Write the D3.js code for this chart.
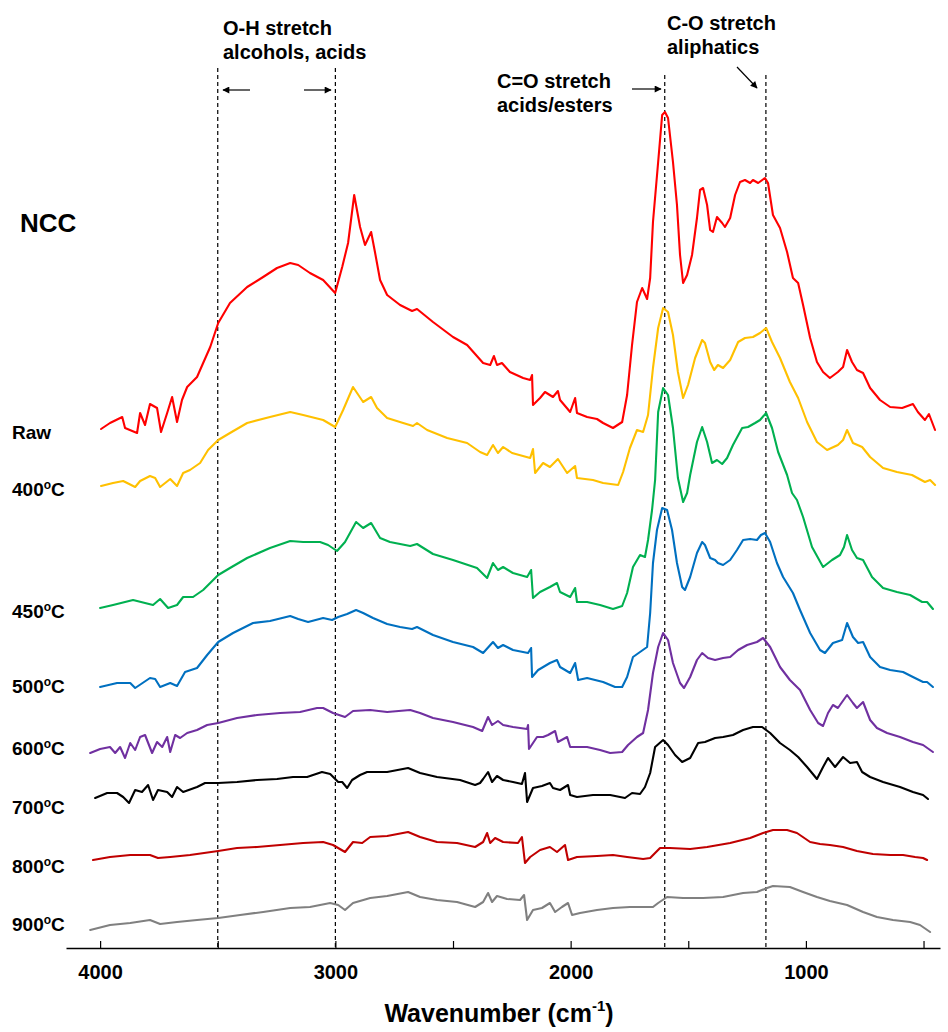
<!DOCTYPE html>
<html>
<head>
<meta charset="utf-8">
<script src="https://cdn.jsdelivr.net/npm/d3@7"></script>
<style>
  html, body { margin: 0; padding: 0; background: #fff; }
  svg { display: block; }
  text { font-family: Arial, "Liberation Sans", sans-serif; font-weight: bold; fill: #000; }
</style>
</head>
<body>
<svg id="chart" width="948" height="1032"></svg>
<script>
// FTIR spectra of NCC, raw and after heating; absorbance in stacked arbitrary units
// Each series: [wavenumber (cm-1), absorbance (a.u., offset for stacking)]
const raw = [[3996,518],[3958,524],[3906,530],[3894,519],[3843,514],[3830,534],[3809,522],[3788,543],[3758,539],[3741,515],[3715,534],[3694,550],[3673,525],[3652,547],[3630,560],[3588,570],[3562,584],[3532,600],[3498,624],[3448,644],[3375,660],[3307,670],[3248,679],[3192,684],[3158,682],[3108,674],[3052,667],[3001,654],[2971,680],[2946,704],[2920,752],[2895,720],[2874,702],[2848,715],[2831,694],[2810,667],[2780,652],[2725,642],[2674,636],[2653,638],[2585,625],[2500,610],[2440,602],[2372,584],[2342,582],[2326,591],[2313,582],[2292,584],[2258,575],[2202,569],[2172,567],[2164,572],[2160,542],[2130,549],[2109,555],[2075,550],[2054,556],[2045,547],[2002,535],[1981,549],[1973,534],[1930,530],[1888,528],[1862,524],[1820,519],[1781,525],[1760,552],[1739,602],[1718,645],[1696,659],[1675,648],[1662,669],[1650,725],[1628,785],[1611,832],[1599,835],[1586,829],[1565,785],[1548,742],[1535,692],[1522,664],[1505,672],[1484,692],[1463,729],[1450,757],[1437,759],[1420,742],[1407,717],[1395,715],[1378,730],[1356,724],[1344,720],[1322,729],[1301,752],[1280,765],[1259,767],[1237,764],[1225,767],[1203,764],[1174,769],[1161,764],[1140,732],[1110,719],[1080,695],[1055,669],[1033,664],[1012,642],[982,609],[953,585],[927,575],[898,569],[864,575],[842,580],[825,597],[804,585],[783,577],[757,574],[727,559],[685,547],[642,540],[591,539],[545,543],[524,535],[494,527],[477,533],[451,517]];

const t400 = [[3996,461],[3945,464],[3902,466],[3851,460],[3830,466],[3788,471],[3766,469],[3745,460],[3702,468],[3673,461],[3647,474],[3618,477],[3575,484],[3541,497],[3498,507],[3448,514],[3375,524],[3278,530],[3192,535],[3137,532],[3052,527],[3001,520],[2967,537],[2925,560],[2882,545],[2848,550],[2823,539],[2780,529],[2712,524],[2670,521],[2653,524],[2610,517],[2525,509],[2440,504],[2385,495],[2355,492],[2330,502],[2309,494],[2287,500],[2249,494],[2172,489],[2160,498],[2151,474],[2117,484],[2088,480],[2054,488],[2015,474],[1981,481],[1973,469],[1905,467],[1862,464],[1798,462],[1777,475],[1748,499],[1718,517],[1692,515],[1671,532],[1650,579],[1628,619],[1607,639],[1586,635],[1565,612],[1544,575],[1522,549],[1501,562],[1471,589],[1441,607],[1429,604],[1407,585],[1390,577],[1374,582],[1352,579],[1322,587],[1288,605],[1259,609],[1225,610],[1195,614],[1169,619],[1144,605],[1110,589],[1068,565],[1033,549],[995,525],[953,505],[910,497],[864,502],[842,507],[825,517],[800,504],[761,500],[727,490],[672,479],[613,475],[549,472],[494,465],[472,467],[451,462]];

const t450 = [[4000,339],[3945,342],[3860,347],[3775,342],[3745,348],[3711,339],[3673,342],[3647,350],[3605,350],[3562,357],[3498,372],[3448,379],[3375,389],[3278,399],[3192,406],[3137,405],[3065,405],[3031,402],[2993,396],[2959,405],[2912,425],[2882,419],[2848,424],[2810,409],[2768,405],[2682,401],[2653,403],[2585,393],[2500,387],[2398,379],[2355,369],[2330,384],[2309,377],[2287,380],[2245,374],[2185,370],[2168,377],[2160,349],[2130,355],[2088,360],[2058,364],[2045,355],[2002,350],[1981,359],[1973,345],[1930,345],[1875,342],[1820,338],[1781,341],[1760,354],[1735,380],[1705,392],[1684,390],[1671,407],[1654,437],[1641,467],[1628,535],[1607,559],[1586,552],[1565,519],[1544,469],[1522,445],[1505,454],[1492,472],[1463,505],[1441,520],[1420,505],[1399,484],[1378,487],[1356,483],[1335,489],[1310,502],[1271,519],[1246,520],[1216,524],[1195,527],[1169,534],[1144,519],[1118,495],[1080,472],[1059,454],[1038,447],[1012,430],[974,400],[927,380],[889,387],[855,392],[838,400],[825,412],[804,397],[783,389],[757,387],[719,370],[672,359],[613,355],[557,352],[506,345],[485,345],[460,338]];

const t500 = [[4000,260],[3928,264],[3872,264],[3851,259],[3788,269],[3766,268],[3745,260],[3702,264],[3673,261],[3639,275],[3588,279],[3545,292],[3498,305],[3435,314],[3350,324],[3278,326],[3192,331],[3158,328],[3116,325],[3052,329],[3014,327],[2988,330],[2950,333],[2912,337],[2882,334],[2840,329],[2780,323],[2725,320],[2674,318],[2653,320],[2585,312],[2500,305],[2415,300],[2372,294],[2330,305],[2309,299],[2287,302],[2245,297],[2181,294],[2168,299],[2164,270],[2138,277],[2088,284],[2058,287],[2045,280],[2002,274],[1981,284],[1968,267],[1930,269],[1862,265],[1811,260],[1781,260],[1760,270],[1735,290],[1705,295],[1675,300],[1662,334],[1650,384],[1633,417],[1611,439],[1590,437],[1569,417],[1548,384],[1526,360],[1514,357],[1492,370],[1463,394],[1441,405],[1429,402],[1407,389],[1386,387],[1374,384],[1352,382],[1322,387],[1293,397],[1267,407],[1237,408],[1208,407],[1191,412],[1174,414],[1152,405],[1123,384],[1097,370],[1055,354],[1025,337],[982,314],[940,297],[919,294],[885,304],[846,307],[825,324],[800,310],[778,304],[757,305],[727,290],[685,280],[642,277],[587,275],[545,270],[502,265],[485,265],[460,260]];

const t600 = [[4042,194],[4000,198],[3958,200],[3936,194],[3915,200],[3894,189],[3872,204],[3851,197],[3830,210],[3809,212],[3779,194],[3758,205],[3736,200],[3715,210],[3702,195],[3681,212],[3660,209],[3630,214],[3588,217],[3545,222],[3498,224],[3418,229],[3333,232],[3235,234],[3150,235],[3078,239],[3052,239],[3010,234],[2959,230],[2925,236],[2852,237],[2780,235],[2682,237],[2640,234],[2585,229],[2500,225],[2415,220],[2376,216],[2351,230],[2334,222],[2309,226],[2287,222],[2245,220],[2185,218],[2181,222],[2177,198],[2143,210],[2117,210],[2096,212],[2066,216],[2054,205],[2015,210],[2002,200],[1990,200],[1930,200],[1875,197],[1832,194],[1781,195],[1756,202],[1718,210],[1692,214],[1671,237],[1650,274],[1628,300],[1607,314],[1586,307],[1565,284],[1535,264],[1518,259],[1492,270],[1463,287],[1441,294],[1416,289],[1386,287],[1352,289],[1322,290],[1288,297],[1250,302],[1208,305],[1182,309],[1152,300],[1110,280],[1068,267],[1025,257],[982,237],[948,224],[927,221],[906,234],[885,242],[864,239],[825,252],[800,244],[783,239],[757,245],[727,227],[698,219],[655,214],[600,210],[545,205],[502,202],[460,195]];

const t700 = [[4021,149],[3970,154],[3928,154],[3902,150],[3877,144],[3851,157],[3822,155],[3796,162],[3775,147],[3754,157],[3715,155],[3694,150],[3673,160],[3647,155],[3588,160],[3554,164],[3498,164],[3418,165],[3333,167],[3248,168],[3180,170],[3120,170],[3057,175],[3022,173],[2988,165],[2971,165],[2950,159],[2929,167],[2895,172],[2865,175],[2780,175],[2691,179],[2640,174],[2568,170],[2470,167],[2406,162],[2385,164],[2372,168],[2351,175],[2334,165],[2313,171],[2287,167],[2245,165],[2207,163],[2194,174],[2185,145],[2160,159],[2122,161],[2088,164],[2075,159],[2045,157],[2011,162],[2002,152],[1973,150],[1905,152],[1832,152],[1769,149],[1739,154],[1705,153],[1684,160],[1662,174],[1641,200],[1607,207],[1586,202],[1556,192],[1526,185],[1492,189],[1458,204],[1429,205],[1386,209],[1352,210],[1310,212],[1267,217],[1225,220],[1186,220],[1152,214],[1110,204],[1068,197],[1033,190],[995,180],[953,168],[927,180],[906,189],[876,180],[842,190],[812,184],[783,185],[761,175],[727,170],[672,165],[600,160],[545,155],[502,152],[481,148]];

const t800 = [[4030,87],[3958,90],[3872,92],[3788,92],[3754,89],[3702,90],[3618,92],[3498,96],[3418,99],[3333,100],[3235,102],[3137,104],[3052,105],[3010,102],[2959,95],[2925,105],[2886,104],[2852,110],[2780,111],[2691,115],[2640,110],[2568,105],[2483,104],[2406,100],[2372,105],[2355,114],[2342,104],[2321,109],[2287,105],[2224,104],[2207,110],[2194,84],[2172,90],[2130,97],[2088,100],[2058,95],[2024,102],[2011,87],[1973,90],[1888,91],[1820,92],[1760,90],[1692,88],[1662,89],[1620,99],[1578,99],[1492,98],[1420,100],[1322,104],[1237,109],[1182,114],[1140,117],[1080,117],[1038,114],[982,105],[940,103],[898,102],[842,100],[783,96],[715,93],[642,92],[587,92],[536,90],[502,89],[485,87]];

const t900 = [[4042,17],[3958,22],[3872,24],[3788,27],[3745,23],[3673,25],[3588,27],[3498,29],[3405,32],[3307,35],[3192,39],[3108,40],[3022,44],[2988,42],[2959,37],[2925,44],[2852,49],[2780,51],[2691,55],[2640,50],[2568,47],[2483,45],[2406,40],[2372,45],[2351,54],[2334,45],[2313,51],[2270,48],[2215,47],[2198,52],[2185,27],[2160,37],[2122,39],[2088,44],[2066,35],[2037,40],[2011,44],[1994,32],[1960,34],[1888,37],[1820,39],[1748,40],[1650,40],[1628,44],[1590,50],[1522,49],[1437,49],[1352,50],[1267,54],[1208,55],[1165,59],[1140,61],[1068,60],[1012,55],[953,50],[898,46],[825,42],[757,35],[698,30],[630,27],[557,25],[515,22],[472,15]];

const seriesData = [raw, t400, t450, t500, t600, t700, t800, t900];
const seriesLabels = ["Raw", "400°C", "450°C", "500°C", "600°C", "700°C", "800°C", "900°C"];
const seriesColors = ["#FF0000", "#FFC000", "#00B050", "#0070C0", "#7030A0", "#000000", "#C00000", "#808080"];

const tickValues = [4000, 3500, 3000, 2500, 2000, 1500, 1000, 500];
const bandLines = [3500, 3000, 1600, 1170];

// layout: baseline of each series label (px)
const labelBaselines = [439, 496, 618, 693, 755, 814, 873, 931];

const svg = d3.select("#chart");
const x = d3.scaleLinear().domain([4145, 430]).range([66, 940]);
const y = d3.scaleLinear().domain([0, 880]).range([947, 67]);

// arrow head marker
svg.append("defs").append("marker")
  .attr("id", "arrowHead")
  .attr("viewBox", "0 0 10 10")
  .attr("refX", 9).attr("refY", 5)
  .attr("markerWidth", 9).attr("markerHeight", 7)
  .attr("markerUnits", "userSpaceOnUse")
  .attr("orient", "auto")
  .append("path").attr("d", "M0,0 L10,5 L0,10 z").attr("fill", "#000");

// dashed band markers
svg.append("g").selectAll("line").data(bandLines).join("line")
  .attr("x1", d => x(d)).attr("x2", d => x(d))
  .attr("y1", (d, i) => i < 2 ? 68 : 75)
  .attr("y2", 947)
  .attr("stroke", "#000").attr("stroke-width", 1.2)
  .attr("stroke-dasharray", "4,3");

// spectra
const line = d3.line().x(d => x(d[0])).y(d => y(d[1])).curve(d3.curveLinear);
svg.append("g").selectAll("path").data(seriesData).join("path")
  .attr("d", line)
  .attr("fill", "none")
  .attr("stroke", (d, i) => seriesColors[i])
  .attr("stroke-width", 2.1)
  .attr("stroke-linejoin", "round")
  .attr("stroke-linecap", "round");

// series labels at the left of each trace
const labelG = svg.append("g");
seriesLabels.forEach((lab, i) => {
  const t = labelG.append("text")
    .attr("x", 12)
    .attr("y", labelBaselines[i])
    .attr("font-size", 19);
  if (lab.includes("°")) {
    const parts = lab.split("°");
    t.append("tspan").text(parts[0]);
    t.append("tspan").attr("font-size", 12).attr("dy", -7).text("o");
    t.append("tspan").attr("dy", 7).text(parts[1]);
  } else {
    t.text(lab);
  }
});

// sample name
svg.append("text").attr("x", 20).attr("y", 232).attr("font-size", 26).text("NCC");

// x axis
const axis = d3.axisBottom(x)
  .tickValues(tickValues)
  .tickFormat(d => d % 1000 === 0 ? d : "")
  .tickSizeInner(-7)
  .tickSizeOuter(0)
  .tickPadding(17);
const ax = svg.append("g").attr("transform", "translate(0,948)").call(axis);
ax.select(".domain").attr("stroke", "#000").attr("stroke-width", 1.5);
ax.selectAll(".tick line").attr("stroke", "#000").attr("stroke-width", 1.2);
ax.selectAll(".tick text")
  .attr("font-size", 20)
  .attr("font-family", "Arial, 'Liberation Sans', sans-serif")
  .attr("font-weight", "bold")
  .attr("fill", "#000");

// axis title
const title = svg.append("text").attr("x", 499).attr("y", 1022)
  .attr("text-anchor", "middle").attr("font-size", 25);
title.append("tspan").text("Wavenumber (cm");
title.append("tspan").attr("font-size", 15).attr("dy", -11).text("-1");
title.append("tspan").attr("dy", 11).text(")");

// band annotations
const notes = [
  { lines: ["O-H stretch", "alcohols, acids"], x: 223, y: 35 },
  { lines: ["C=O stretch", "acids/esters"], x: 497, y: 88 },
  { lines: ["C-O stretch", "aliphatics"], x: 667, y: 30 }
];
notes.forEach(n => {
  n.lines.forEach((l, j) => {
    svg.append("text").attr("x", n.x).attr("y", n.y + j * 24)
      .attr("font-size", 20).text(l);
  });
});

// arrows pointing to the band markers
const arrows = [
  [250, 90, 223, 90],
  [304, 90, 331, 90],
  [632, 89, 661, 89],
  [737, 67, 757, 88]
];
svg.append("g").selectAll("line").data(arrows).join("line")
  .attr("x1", d => d[0]).attr("y1", d => d[1])
  .attr("x2", d => d[2]).attr("y2", d => d[3])
  .attr("stroke", "#000").attr("stroke-width", 1.2)
  .attr("marker-end", "url(#arrowHead)");
</script>
</body>
</html>
